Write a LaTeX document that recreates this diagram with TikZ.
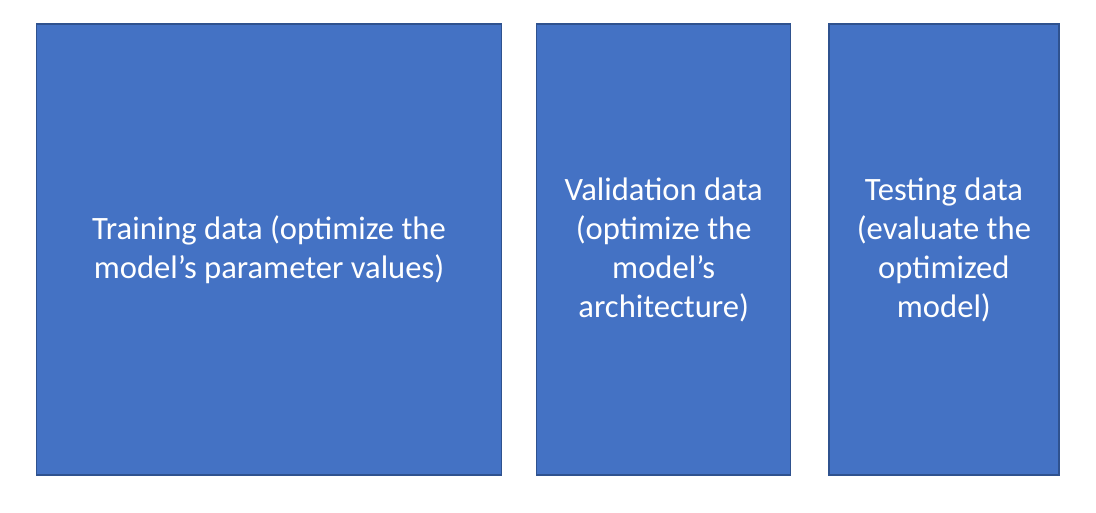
\documentclass[tikz,border=0pt]{standalone}
\usepackage{fontspec}
\setmainfont{Carlito}
\usepackage{tikz}
\usetikzlibrary{positioning}
\definecolor{dsfill}{HTML}{4472C4}
\definecolor{dsedge}{HTML}{2F528F}
\tikzset{
  databox/.style={draw=dsedge,fill=dsfill,line width=0.6pt,minimum height=225.5pt,text=white,align=center,font=\fontsize{16.3}{19.5}\selectfont,inner sep=4pt},
}
\begin{document}
\begin{tikzpicture}[x=0.5pt,y=-0.5pt,node distance=17pt]
  \useasboundingbox (0,0) rectangle (1096,513);
  \node[databox,minimum width=232.5pt] (train) at (269,249.5) {Training data (optimize the\\model’s parameter values)};
  \node[databox,minimum width=127pt,right=of train] (valid) {Validation data\\(optimize the\\model’s\\architecture)};
  \node[databox,minimum width=115pt,right=18.5pt of valid] (test) {Testing data\\(evaluate the\\optimized\\model)};
\end{tikzpicture}
\end{document}
